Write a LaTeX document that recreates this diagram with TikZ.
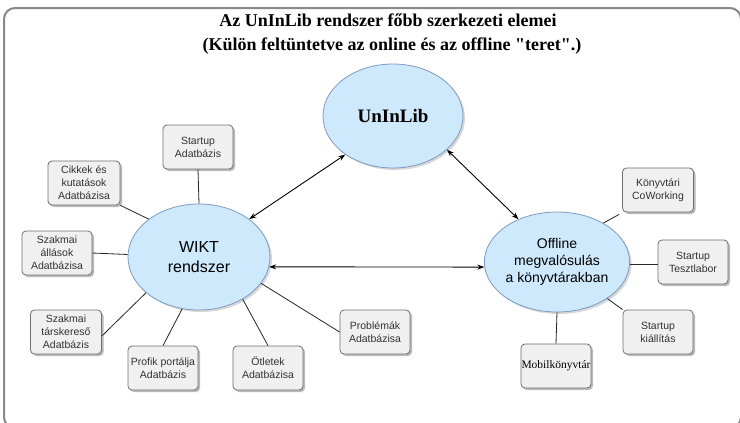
\documentclass[tikz,border=0pt]{standalone}
\usepackage{fontspec}
\setmainfont{Liberation Serif}[Ligatures=TeXOff]
\setsansfont{Liberation Sans}
\usetikzlibrary{shapes.geometric,shadows,arrows.meta}
\definecolor{ellfill}{RGB}{206,232,252}
\definecolor{elldraw}{RGB}{125,155,195}
\definecolor{boxfill}{RGB}{240,240,240}
\definecolor{boxdraw}{RGB}{110,110,110}
\definecolor{framec}{RGB}{136,136,136}
\definecolor{boxtext}{RGB}{50,50,50}
\tikzset{
  dbbox/.style={draw=boxdraw, fill=boxfill, rounded corners=4pt, line width=0.8pt,
    minimum width=70pt, minimum height=44pt, inner sep=1pt, align=center,
    font=\sffamily\fontsize{10.5}{13}\selectfont, text=boxtext,
    drop shadow={shadow xshift=2pt, shadow yshift=-2pt, fill=black!45, opacity=0.6}},
  hub/.style={ellipse, draw=elldraw, fill=ellfill, line width=0.8pt, inner sep=0pt, align=center,
    drop shadow={shadow xshift=2pt, shadow yshift=-2pt, fill=black!30, opacity=0.5}},
  link/.style={draw=black!85, line width=0.8pt},
  biarrow/.style={black, line width=0.9pt, {Stealth[length=7pt,width=5pt]}-{Stealth[length=7pt,width=5pt]}},
  titletext/.style={font=\rmfamily\bfseries\fontsize{18}{22}\selectfont, inner sep=0pt}
}
\begin{document}
\begin{tikzpicture}[x=1pt,y=-1pt]
\useasboundingbox (0,0) rectangle (740,423);
\clip (0,0) rectangle (740,423);
\fill[white] (0,0) rectangle (740,423);
\draw[framec, line width=2pt, rounded corners=11pt] (4,8) rectangle (741,428);

\node[titletext, anchor=base] (t1) at (388,27) {Az UnInLib rendszer főbb szerkezeti elemei};
\node[titletext, anchor=base] (t2) at (392,50) {(Külön feltüntetve az online és az offline "teret".)};

\node[hub, minimum width=140pt, minimum height=104pt, font=\rmfamily\bfseries\fontsize{19}{22}\selectfont] (unin) at (393,116) {UnInLib};
\node[hub, minimum width=142pt, minimum height=106pt, font=\sffamily\fontsize{16}{20}\selectfont] (wikt) at (199,257) {WIKT\\rendszer};
\node[hub, minimum width=134pt, minimum height=100pt, font=\sffamily\fontsize{14}{16.7}\selectfont] (off) at (557,262) {Offline\\megvalósulás\\a könyvtárakban};

\node[dbbox] (sa) at (198,147) {Startup\\Adatbázis};
\node[dbbox, minimum width=72pt] (cikk) at (84,183) {Cikkek és\\kutatások\\Adatbázisa};
\node[dbbox] (allas) at (57,253) {Szakmai\\állások\\Adatbázisa};
\node[dbbox, minimum width=71pt] (tars) at (66,332) {Szakmai\\társkereső\\Adatbázis};
\node[dbbox] (profik) at (163,368) {Profik portálja\\Adatbázis};
\node[dbbox] (otlet) at (268,368) {Ötletek\\Adatbázisa};
\node[dbbox] (probl) at (375,332) {Problémák\\Adatbázisa};
\node[dbbox, minimum width=71pt] (cow) at (658,190) {Könyvtári\\CoWorking};
\node[dbbox] (tlab) at (693,262) {Startup\\Tesztlabor};
\node[dbbox] (kiall) at (658,332) {Startup\\kiállítás};
\node[dbbox, inner xsep=0pt, font=\rmfamily\fontsize{11.5}{13}\selectfont, text=black] (mobil) at (556,366) {Mobilkönyvtár};

\draw[link] (sa.south) -- (wikt.north);
\draw[link] (cikk.south east) -- (wikt.143);
\draw[link] (allas.east) -- (wikt.178);
\draw[link] ([yshift=-4pt]tars.east) -- (wikt.214);
\draw[link] (profik.north) -- (wikt.252);
\draw[link] (otlet.north) -- (wikt.-44);
\draw[link] (probl.west) -- (wikt.-23);
\draw[link] (off.40) -- ([xshift=-3pt,yshift=-2pt]cow.south west);
\draw[link] ([yshift=-2pt]tlab.west) -- ([yshift=-2pt]off.east);
\draw[link] (off.-36) -- (kiall.north west);
\draw[link] (off.south) -- (mobil.north);

\draw[biarrow] (unin.-141) -- (wikt.37);
\draw[biarrow] (unin.-32) -- (off.132);
\draw[biarrow] (wikt.-8) -- (off.-176);
\end{tikzpicture}
\end{document}
